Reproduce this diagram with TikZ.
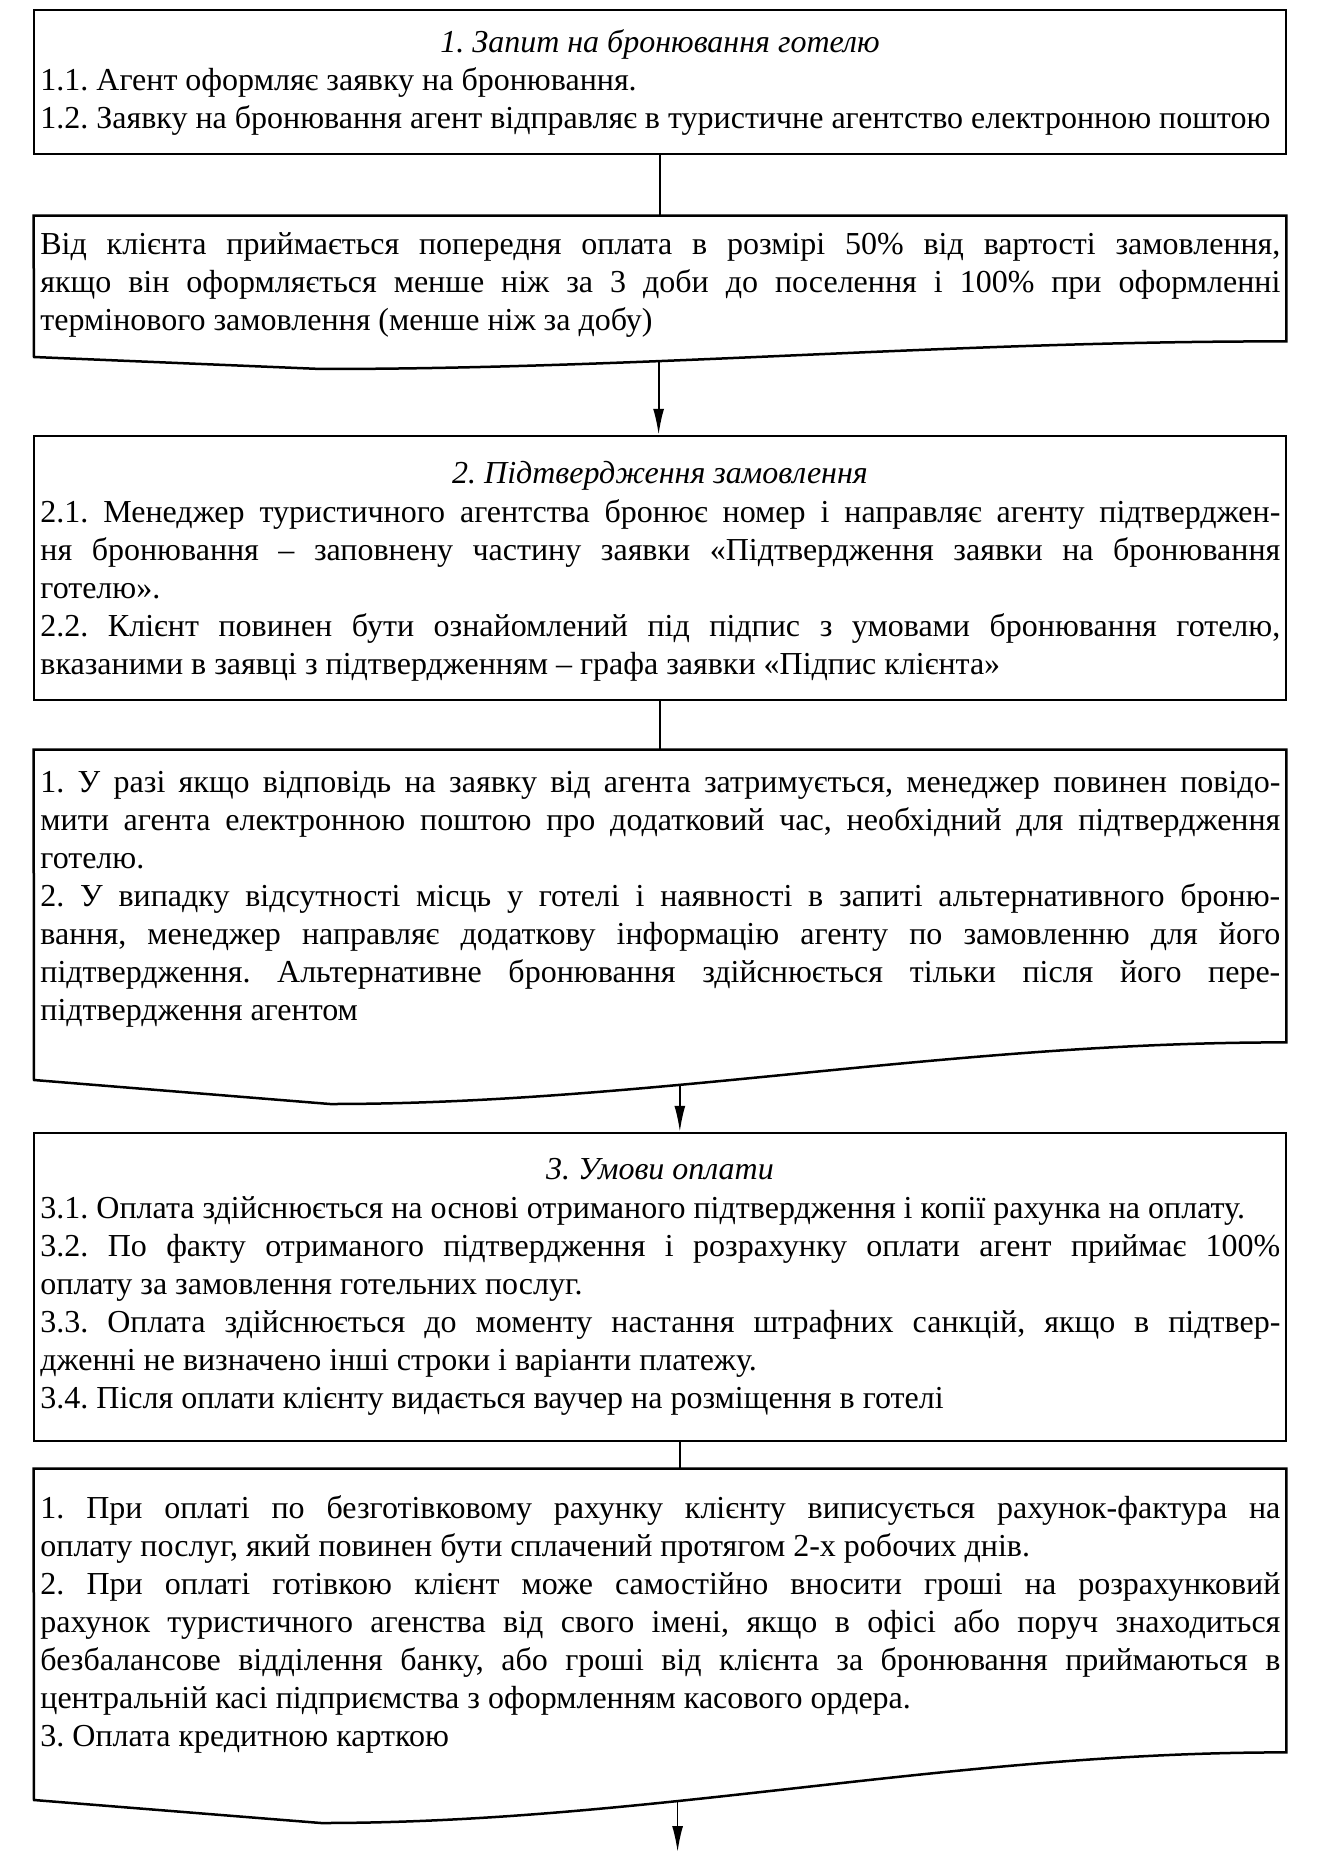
\documentclass[tikz,border=0pt]{standalone}
\usepackage{fontspec}
\setmainfont{Liberation Serif}
\usetikzlibrary{arrows.meta,fit,calc}
\hyphenpenalty=10000
\exhyphenpenalty=10000
\frenchspacing
\begin{document}
\begin{tikzpicture}[x=0.5pt,y=-0.5pt,
  box/.style={draw, line width=1.25pt, inner sep=0pt, fit=#1},
  ghost/.style={inner sep=0pt, fit=#1},
  wave/.style={draw, line width=1.25pt, line join=miter},
  txt/.style={anchor=base west, inner sep=0pt, text width=620pt, align=justify,
              font=\fontsize{16}{19}\selectfont\frenchspacing},
  ttl/.style={anchor=base, inner sep=0pt, font=\fontsize{16}{19}\selectfont\itshape},
  conn/.style={line width=0.9pt},
  arr/.style={line width=0.9pt, -{Latex[length=13pt,width=5.5pt]}}
]
\useasboundingbox (0,0) rectangle (1319,1856);

% ---------- box 1 ----------
\coordinate (b1a) at (34,10);
\coordinate (b1b) at (1286,154);
\node[box={(b1a)(b1b)}] (b1) {};
\node[ttl] (h1) at (660,53) {1. Запит на бронювання готелю};
\node[txt] (t1) at (40,91) {1.1. Агент оформляє заявку на бронювання.\par
1.2. Заявку на бронювання агент відправляє в туристичне агентство електронною поштою};

% ---------- box 2 (document) ----------
\coordinate (b2a) at (34,216);
\coordinate (b2b) at (1286,341);
\node[ghost={(b2a)(b2b)}] (b2) {};
\draw[wave] (b2.north west) -- (b2.north east) -- (b2.south east)
  .. controls (950,341) and (650,369) .. coordinate[pos=0.65] (w2) (321,369)
  -- (34,357) -- cycle;
\node[txt] (t2) at (40,255) {Від клієнта приймається попередня оплата в розмірі 50\% від вартості замовлення,\linebreak
якщо він оформляється менше ніж за 3 доби до поселення і 100\% при оформленні\linebreak
термінового замовлення (менше ніж за добу)};

% ---------- box 3 ----------
\coordinate (b3a) at (34,436);
\coordinate (b3b) at (1286,700);
\node[box={(b3a)(b3b)}] (b3) {};
\node[ttl] (h3) at (660,483) {2. Підтвердження замовлення};
\node[txt] (t3) at (40,522) {2.1. Менеджер туристичного агентства бронює номер і направляє агенту підтверджен-\linebreak
ня бронювання – заповнену частину заявки «Підтвердження заявки на бронювання\linebreak
готелю».\par
2.2. Клієнт повинен бути ознайомлений під підпис з умовами бронювання готелю,\linebreak
вказаними в заявці з підтвердженням – графа заявки «Підпис клієнта»};

% ---------- box 4 (document) ----------
\coordinate (b4a) at (34,750);
\coordinate (b4b) at (1286,1042);
\node[ghost={(b4a)(b4b)}] (b4) {};
\draw[wave] (b4.north west) -- (b4.north east) -- (b4.south east)
  .. controls (950,1042) and (650,1104) .. coordinate[pos=0.63] (w4) (330,1104)
  -- (34,1080) -- cycle;
\node[txt] (t4) at (40,792) {1. У разі якщо відповідь на заявку від агента затримується, менеджер повинен повідо-\linebreak
мити агента електронною поштою про додатковий час, необхідний для підтвердження\linebreak
готелю.\par
2. У випадку відсутності місць у готелі і наявності в запиті альтернативного броню-\linebreak
вання, менеджер направляє додаткову інформацію агенту по замовленню для його\linebreak
підтвердження. Альтернативне бронювання здійснюється тільки після його пере-\linebreak
підтвердження агентом};

% ---------- box 5 ----------
\coordinate (b5a) at (34,1133);
\coordinate (b5b) at (1286,1441);
\node[box={(b5a)(b5b)}] (b5) {};
\node[ttl] (h5) at (660,1179) {3. Умови оплати};
\node[txt] (t5) at (40,1218) {3.1. Оплата здійснюється на основі отриманого підтвердження і копії рахунка на оплату.\par
3.2. По факту отриманого підтвердження і розрахунку оплати агент приймає 100\%\linebreak
оплату за замовлення готельних послуг.\par
3.3. Оплата здійснюється до моменту настання штрафних санкцій, якщо в підтвер-\linebreak
дженні не визначено інші строки і варіанти платежу.\par
3.4. Після оплати клієнту видається ваучер на розміщення в готелі};

% ---------- box 6 (document) ----------
\coordinate (b6a) at (34,1469);
\coordinate (b6b) at (1286,1752);
\node[ghost={(b6a)(b6b)}] (b6) {};
\draw[wave] (b6.north west) -- (b6.north east) -- (b6.south east)
  .. controls (950,1752) and (650,1823) .. coordinate[pos=0.63] (w6) (321,1823)
  -- (34,1800) -- cycle;
\node[txt] (t6) at (40,1518) {1. При оплаті по безготівковому рахунку клієнту виписується рахунок-фактура на\linebreak
оплату послуг, який повинен бути сплачений протягом 2-х робочих днів.\par
2. При оплаті готівкою клієнт може самостійно вносити гроші на розрахунковий\linebreak
рахунок туристичного агенства від свого імені, якщо в офісі або поруч знаходиться\linebreak
безбалансове відділення банку, або гроші від клієнта за бронювання приймаються в\linebreak
центральній касі підприємства з оформленням касового ордера.\par
3. Оплата кредитною карткою};

\coordinate (fin) at (683,1852);

% ---------- connectors ----------
\draw[conn] (b1.south) -- (b2.north);
\draw[arr] (w2) -- (w2 |- b3.north);
\draw[conn] (b3.south) -- (b4.north);
\draw[arr] (w4) -- (w4 |- b5.north);
\draw[conn] (b5.south -| w4) -- (b6.north -| w4);
\draw[arr] (w6) -- (w6 |- fin);
\end{tikzpicture}
\end{document}
